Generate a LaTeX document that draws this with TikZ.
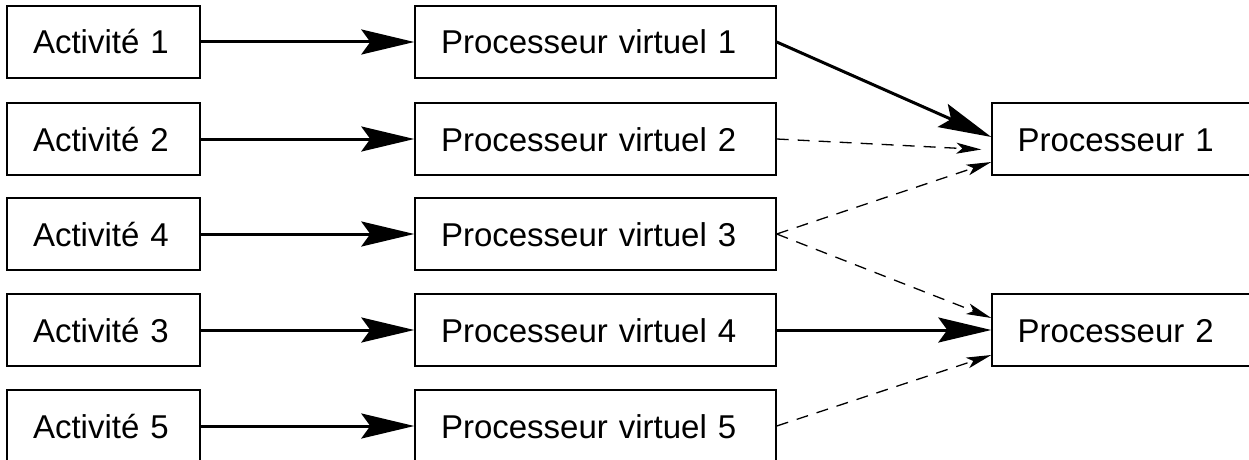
\documentclass[tikz,border=0pt]{standalone}
\usepackage{fontspec}
\setmainfont{Liberation Sans}
\usetikzlibrary{arrows.meta,calc}
\tikzset{
  box/.style={draw, line width=1.4pt, rectangle, minimum height=72pt,
    inner xsep=26pt, inner ysep=0pt, align=left, text height=24pt, text depth=0pt,
    font=\fontsize{33}{40}\selectfont},
  actbox/.style={box, minimum width=193pt, text width=141pt},
  vpbox/.style={box, minimum width=361pt, text width=309pt},
  pbox/.style={box, minimum width=361pt, text width=310pt, inner xsep=25pt},
  strong/.style={line width=3pt, -{Stealth[length=53pt, width=25pt, inset=9pt]}},
  weak/.style={line width=1.3pt, dash pattern=on 12pt off 9pt, -{Stealth[length=25pt, width=11pt, inset=6pt]}}
}
\begin{document}
\begin{tikzpicture}[x=1pt, y=-1pt]
\useasboundingbox (0,0) rectangle (1249,460);
\clip (0,0) rectangle (1249,460);
\node[actbox] (a1) at (103.5,42) {Activité 1};
\node[actbox] (a2) at (103.5,139) {Activité 2};
\node[actbox] (a4) at (103.5,234) {Activité 4};
\node[actbox] (a3) at (103.5,330) {Activité 3};
\node[actbox] (a5) at (103.5,426) {Activité 5};
\node[vpbox] (v1) at (595.5,42) {Processeur virtuel 1};
\node[vpbox] (v2) at (595.5,139) {Processeur virtuel 2};
\node[vpbox] (v3) at (595.5,234) {Processeur virtuel 3};
\node[vpbox] (v4) at (595.5,330) {Processeur virtuel 4};
\node[vpbox] (v5) at (595.5,426) {Processeur virtuel 5};
\node[pbox] (p1) at (1172.5,139) {Processeur 1};
\node[pbox] (p2) at (1172.5,330) {Processeur 2};
\draw[strong] (a1.east) -- (v1.west);
\draw[strong] (a2.east) -- (v2.west);
\draw[strong] (a4.east) -- (v3.west);
\draw[strong] (a3.east) -- (v4.west);
\draw[strong] (a5.east) -- (v5.west);
\draw[strong] (v1.east) -- ([yshift=2pt]p1.west);
\draw[strong] (v4.east) -- (p2.west);
\draw[weak, shorten >=10pt] (v2.east) -- ([yshift=-11pt]p1.west);
\draw[weak] (v3.east) -- ([yshift=-23pt]p1.west);
\draw[weak] (v3.east) -- ([yshift=12pt]p2.west);
\draw[weak] (v5.east) -- ([yshift=-25pt]p2.west);
\end{tikzpicture}
\end{document}
